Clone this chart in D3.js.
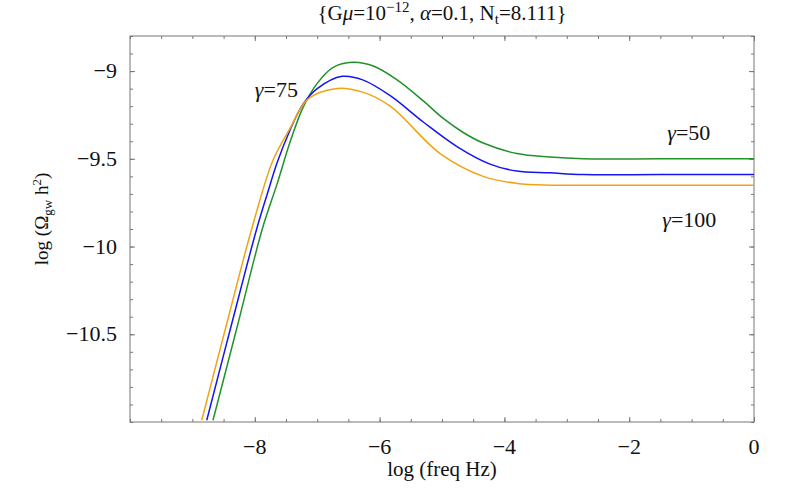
<!DOCTYPE html>
<html>
<head>
<meta charset="utf-8">
<script src="https://cdn.jsdelivr.net/npm/d3@7/dist/d3.min.js"></script>
<style>
  body { margin: 0; background: #fff; }
  svg text { font-family: "Liberation Serif", "DejaVu Serif", serif; fill: #111; }
</style>
</head>
<body>
<div id="chart"></div>
<script>
// log(freq Hz) / log(Omega_gw h^2)
const gamma50X  = [-8.67, -8.27, -7.88, -7.64, -7.44, -7.23, -7.00, -6.75, -6.43, -6.11, -5.72, -5.30, -4.98, -4.66, -4.34, -3.80, -3.27, -2.74, -1.5, 0];
const gamma50Y  = [-10.99, -10.44, -9.90, -9.64, -9.41, -9.21, -9.07, -8.98, -8.95, -8.97, -9.05, -9.17, -9.27, -9.35, -9.41, -9.47, -9.49, -9.50, -9.50, -9.50];
const gamma75X  = [-8.77, -8.37, -7.97, -7.80, -7.64, -7.44, -7.23, -7.00, -6.60, -6.27, -5.83, -5.30, -4.76, -4.23, -3.80, -3.27, -2.74, -1.5, 0];
const gamma75Y  = [-10.99, -10.44, -9.90, -9.70, -9.52, -9.34, -9.19, -9.10, -9.03, -9.05, -9.14, -9.29, -9.43, -9.53, -9.57, -9.58, -9.59, -9.59, -9.59];
const gamma100X = [-8.85, -8.45, -8.05, -7.71, -7.44, -7.15, -6.71, -6.27, -5.83, -5.03, -4.34, -3.80, -3.27, -2.5, -1.5, 0];
const gamma100Y = [-10.99, -10.44, -9.90, -9.51, -9.33, -9.16, -9.10, -9.12, -9.20, -9.47, -9.60, -9.64, -9.65, -9.65, -9.65, -9.65];

const xMajor = [-8, -6, -4, -2, 0];
const yMajor = [-9, -9.5, -10, -10.5];

const curves = [
  { name: '50',  xs: gamma50X,  ys: gamma50Y,  color: '#22912a' },
  { name: '75',  xs: gamma75X,  ys: gamma75Y,  color: '#1414f0' },
  { name: '100', xs: gamma100X, ys: gamma100Y, color: '#f2a312' },
];
// curve labels: [text, x, y] in data units
const labels = [['75', -8.0, -9.15], ['50', -1.39, -9.39], ['100', -1.47, -9.89]];

const W = 789, H = 488;
const margin = { top: 36, right: 35, bottom: 66, left: 130 };
const w = W - margin.left - margin.right;
const h = H - margin.top - margin.bottom;
const serif = '"Liberation Serif", "DejaVu Serif", serif';

const svg = d3.select('#chart').append('svg')
  .attr('width', W).attr('height', H)
  .style('font-family', serif);
const g = svg.append('g')
  .attr('transform', `translate(${margin.left},${margin.top})`);

const x = d3.scaleLinear().domain([-10, 0]).range([0, w]);
const y = d3.scaleLinear().domain([-11, -8.8]).range([h, 0]);

const axisColor = '#777';

// minor + major ticks on all four sides, pointing inward
const xMinor = d3.range(-10, 0.001, 0.5);
const yMinor = d3.range(-11, -8.79, 0.1);
function ticks(axisFn, scale, vals, len, transform) {
  const a = g.append('g').attr('transform', transform)
    .call(axisFn(scale).tickValues(vals).tickSize(len).tickFormat(''));
  a.select('.domain').remove();
  a.selectAll('line').attr('stroke', axisColor);
}
ticks(d3.axisTop, x, xMinor, 3, `translate(0,${h})`);
ticks(d3.axisTop, x, xMajor, 5, `translate(0,${h})`);
ticks(d3.axisBottom, x, xMinor, 3, 'translate(0,0)');
ticks(d3.axisBottom, x, xMajor, 5, 'translate(0,0)');
ticks(d3.axisRight, y, yMinor, 3, 'translate(0,0)');
ticks(d3.axisRight, y, yMajor, 5, 'translate(0,0)');
ticks(d3.axisLeft, y, yMinor, 3, `translate(${w},0)`);
ticks(d3.axisLeft, y, yMajor, 5, `translate(${w},0)`);

g.append('rect').attr('width', w).attr('height', h)
  .attr('fill', 'none').attr('stroke', axisColor).attr('stroke-width', 1);

// tick labels
const fmt = d => String(d).replace('-', '\u2212');
g.selectAll('.xl').data(xMajor).join('text')
  .attr('x', d => x(d)).attr('y', h + 32)
  .attr('text-anchor', 'middle')
  .style('font-family', serif).style('font-size', '22px')
  .text(fmt);
g.selectAll('.yl').data(yMajor).join('text')
  .attr('x', -13).attr('y', d => y(d) + 7)
  .attr('text-anchor', 'end')
  .style('font-family', serif).style('font-size', '22px')
  .text(fmt);

// curves
g.append('clipPath').attr('id', 'clip')
  .append('rect').attr('width', w).attr('height', h);
const line = d3.line()
  .x(d => x(d[0])).y(d => y(d[1]))
  .curve(d3.curveCatmullRom.alpha(0.5));
curves.forEach(c => {
  g.append('path')
    .datum(c.xs.map((v, i) => [v, c.ys[i]]))
    .attr('d', line)
    .attr('fill', 'none')
    .attr('stroke', c.color)
    .attr('stroke-width', 1.5)
    .attr('clip-path', 'url(#clip)');
});

labels.forEach(([t, lx, ly]) => {
  const tx = g.append('text').attr('x', x(lx)).attr('y', y(ly))
    .style('font-family', serif).style('font-size', '22px');
  tx.append('tspan').attr('font-style', 'italic').text('\u03b3');
  tx.append('tspan').text('=' + t);
});

// title
const title = svg.append('text')
  .attr('x', margin.left + w / 2).attr('y', 20)
  .attr('text-anchor', 'middle')
  .style('font-family', serif).style('font-size', '21px');
title.append('tspan').text('{G');
title.append('tspan').attr('font-style', 'italic').text('\u03bc');
title.append('tspan').text('=10');
title.append('tspan').attr('dy', -8).style('font-size', '15px').text('\u221212');
title.append('tspan').attr('dy', 8).text(', ');
title.append('tspan').attr('font-style', 'italic').text('\u03b1');
title.append('tspan').text('=0.1, N');
title.append('tspan').attr('dy', 4).style('font-size', '15px').text('t');
title.append('tspan').attr('dy', -4).text('=8.111}');

// axis titles
svg.append('text')
  .attr('x', margin.left + w / 2).attr('y', H - 12)
  .attr('text-anchor', 'middle')
  .style('font-family', serif).style('font-size', '21px')
  .text('log (freq Hz)');

const yl = svg.append('text')
  .attr('transform', 'translate(48,219) rotate(-90)')
  .attr('text-anchor', 'middle')
  .style('font-family', serif).style('font-size', '19px');
yl.append('tspan').text('log (\u03a9');
yl.append('tspan').attr('dy', 4).style('font-size', '13px').text('gw');
yl.append('tspan').attr('dy', -4).text(' h');
yl.append('tspan').attr('dy', -7).style('font-size', '13px').text('2');
yl.append('tspan').attr('dy', 7).text(')');
</script>
</body>
</html>
